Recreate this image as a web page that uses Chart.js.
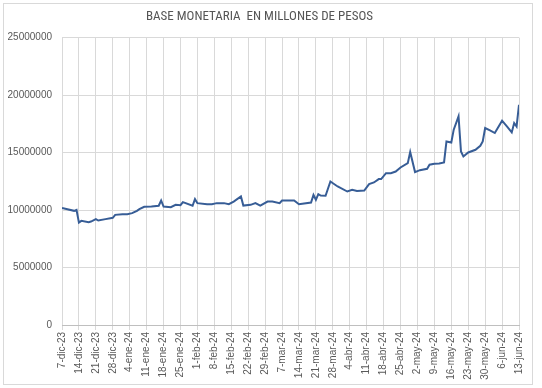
<!DOCTYPE html>
<html>
<head>
<meta charset="utf-8">
<script src="https://cdn.jsdelivr.net/npm/chart.js@4"></script>
<style>
  html, body { margin: 0; padding: 0; background: #fff; }
  #frame { position: absolute; left: 3px; top: 3px; width: 528px; height: 380px; border: 1px solid #d9d9d9; }
  #wrap { position: absolute; left: 0; top: 0; width: 542px; height: 388px; }
</style>
</head>
<body>
<div id="frame"></div>
<div id="wrap"><canvas id="chart" width="542" height="388"></canvas></div>
<script>
const fechas = [
  '2023-12-07','2023-12-12','2023-12-13','2023-12-14','2023-12-15','2023-12-18','2023-12-19','2023-12-21',
  '2023-12-22','2023-12-25','2023-12-27','2023-12-28','2023-12-29','2024-01-01','2024-01-03','2024-01-05',
  '2024-01-07','2024-01-08','2024-01-10','2024-01-13','2024-01-16','2024-01-17','2024-01-18','2024-01-21',
  '2024-01-23','2024-01-25','2024-01-26','2024-01-30','2024-01-31','2024-02-01','2024-02-05','2024-02-07',
  '2024-02-09','2024-02-12','2024-02-14','2024-02-16','2024-02-19','2024-02-20','2024-02-23','2024-02-25',
  '2024-02-27','2024-03-01','2024-03-03','2024-03-06','2024-03-07','2024-03-12','2024-03-14','2024-03-19',
  '2024-03-20','2024-03-21','2024-03-22','2024-03-23','2024-03-25','2024-03-27','2024-03-30','2024-04-03',
  '2024-04-05','2024-04-07','2024-04-10','2024-04-12','2024-04-14','2024-04-16','2024-04-17','2024-04-19',
  '2024-04-21','2024-04-23','2024-04-25','2024-04-28','2024-04-29','2024-05-01','2024-05-03','2024-05-06',
  '2024-05-07','2024-05-09','2024-05-11','2024-05-13','2024-05-14','2024-05-16','2024-05-17','2024-05-19',
  '2024-05-20','2024-05-21','2024-05-23','2024-05-26','2024-05-28','2024-05-29','2024-05-30','2024-06-01',
  '2024-06-03','2024-06-06','2024-06-08','2024-06-10','2024-06-11','2024-06-12','2024-06-13'
];
// millones de pesos
const base = [
  10170000, 9930000, 10020000, 8910000, 9060000, 8950000, 9000000, 9210000,
  9090000, 9210000, 9290000, 9320000, 9580000, 9640000, 9640000, 9730000,
  9930000, 10080000, 10280000, 10300000, 10370000, 10830000, 10300000, 10250000,
  10450000, 10420000, 10690000, 10370000, 10950000, 10600000, 10510000, 10510000,
  10600000, 10600000, 10510000, 10740000, 11180000, 10390000, 10450000, 10600000,
  10390000, 10740000, 10740000, 10600000, 10830000, 10830000, 10500000, 10650000,
  11320000, 10890000, 11380000, 11260000, 11240000, 12480000, 12050000, 11610000,
  11760000, 11650000, 11700000, 12260000, 12400000, 12690000, 12690000, 13210000,
  13210000, 13350000, 13700000, 14080000, 15050000, 13300000, 13470000, 13590000,
  13940000, 14020000, 14050000, 14140000, 15970000, 15880000, 16990000, 18150000,
  15100000, 14660000, 15010000, 15240000, 15590000, 15970000, 17130000, 16930000,
  16700000, 17770000, 17270000, 16750000, 17570000, 17270000, 19160000
];
const yTicks = [0, 5000000, 10000000, 15000000, 20000000, 25000000];
const meses = ['ene','feb','mar','abr','may','jun','jul','ago','sep','oct','nov','dic'];
const inicio = Date.UTC(2023, 11, 7);

function dia(s) {
  const p = s.split('-');
  return Math.round((Date.UTC(+p[0], +p[1] - 1, +p[2]) - inicio) / 86400000);
}
function etiqueta(d) {
  const f = new Date(inicio + d * 86400000);
  return f.getUTCDate() + '-' + meses[f.getUTCMonth()] + '-' + String(f.getUTCFullYear()).slice(2);
}

const puntos = fechas.map((f, i) => ({ x: dia(f), y: base[i] }));
const grid = '#d9d9d9';
const txt = '#595959';
const fuente = 'Liberation Sans, Arial, sans-serif';

new Chart(document.getElementById('chart'), {
  type: 'line',
  data: {
    datasets: [{
      data: puntos,
      borderColor: '#375d96',
      borderWidth: 2,
      pointRadius: 0,
      tension: 0,
      fill: false
    }]
  },
  options: {
    responsive: false,
    animation: false,
    layout: { padding: { left: 0, right: 23, top: 0, bottom: 0 } },
    plugins: {
      legend: { display: false },
      tooltip: { enabled: false },
      title: {
        display: true,
        text: 'BASE MONETARIA  EN MILLONES DE PESOS',
        color: '#555555',
        font: { family: '"Liberation Sans Narrow", "Roboto Condensed", "DejaVu Sans Condensed", sans-serif', size: 13, weight: 'normal' },
        padding: { top: 9, bottom: 13 }
      }
    },
    scales: {
      x: {
        type: 'linear',
        min: 0,
        max: dia('2024-06-13'),
        afterFit: a => { a.height = 63; },
        afterBuildTicks: a => {
          a.ticks = [];
          for (let d = 0; d <= a.max; d += 7) a.ticks.push({ value: d });
        },
        grid: { color: grid, tickLength: 5 },
        border: { color: '#bfbfbf' },
        ticks: {
          autoSkip: false,
          minRotation: 90,
          maxRotation: 90,
          padding: 2,
          color: txt,
          font: { family: fuente, size: 10 },
          callback: v => etiqueta(v)
        }
      },
      y: {
        min: 0,
        max: 25000000,
        afterFit: a => { a.width = 62; },
        afterBuildTicks: a => { a.ticks = yTicks.map(v => ({ value: v })); },
        grid: { color: grid, drawTicks: false },
        border: { display: false },
        ticks: {
          padding: 10,
          color: txt,
          font: { family: fuente, size: 10 },
          callback: v => String(v)
        }
      }
    }
  }
});
</script>
</body>
</html>
